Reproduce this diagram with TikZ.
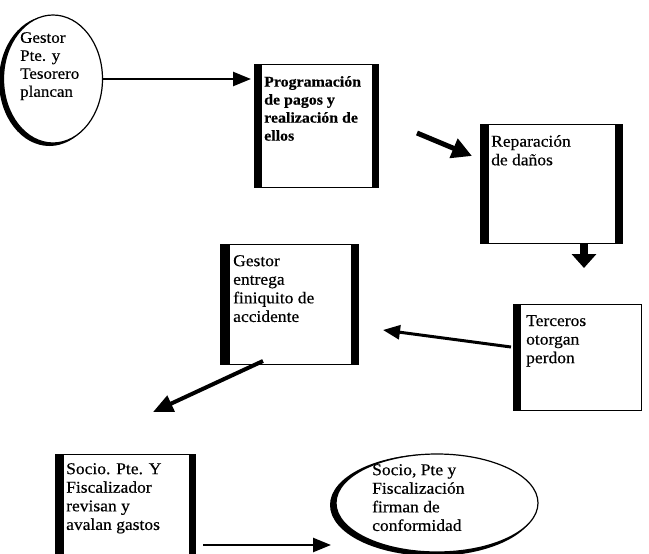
\documentclass[tikz,border=0pt]{standalone}
\usepackage{fontspec}
\setmainfont{Liberation Serif}[FakeStretch=1.06,FakeBold=0.4]
\usetikzlibrary{arrows.meta,shapes.geometric,backgrounds}
\begin{document}
\begin{tikzpicture}[x=1pt,y=-1pt,
  box/.style={draw, line width=1.2pt, rectangle, inner sep=0pt, anchor=north west},
  oval/.style={draw, line width=1.2pt, ellipse, inner sep=0pt, fill=white},
  txt/.style={anchor=north west, inner sep=0pt, align=left, font=\fontsize{16.5}{18.6}\selectfont},
  arr/.style={-{Triangle[length=18pt,width=14pt]}, line width=2.5pt},
]
\useasboundingbox (0,0) rectangle (649,554);
\clip (0,0) rectangle (649,554);

% ellipse 1
\node[oval, minimum width=99pt, minimum height=128pt] (e1) at (53,79) {};
\begin{scope}[on background layer]
  \fill[white] (0,0) rectangle (649,554);
  \fill[black] ([xshift=-3.5pt,yshift=-2pt]e1.center) ellipse (50.5pt and 65pt);
\end{scope}
\node[txt, font=\fontsize{16}{18}\selectfont] (t1) at (20,32) {Gestor\\Pte. y\\Tesorero\\plancan};

% box 1
\node[box, minimum width=124pt, minimum height=123pt] (b1) at (254,64) {};
\fill (b1.north west) rectangle ([xshift=8pt]b1.south west);
\fill ([xshift=-7pt]b1.north east) rectangle (b1.south east);
\node[txt, font=\fontsize{15}{18}\selectfont\bfseries] (tb1) at (264,76) {Programación\\de pagos y\\realización de\\ellos};

% box 2
\node[box, minimum width=142pt, minimum height=119pt] (b2) at (480,124) {};
\fill (b2.north west) rectangle ([xshift=9pt]b2.south west);
\fill ([xshift=-8pt]b2.north east) rectangle (b2.south east);
\node[txt] (tb2) at (491,135) {Reparación\\de daños};

% box 3
\node[box, minimum width=128pt, minimum height=106pt] (b3) at (513,304) {};
\fill (b3.north west) rectangle ([xshift=8pt]b3.south west);
\node[txt] (tb3) at (526,315) {Terceros\\otorgan\\perdon};

% box 4
\node[box, minimum width=138pt, minimum height=120pt] (b4) at (220,244) {};
\fill (b4.north west) rectangle ([xshift=10pt]b4.south west);
\fill ([xshift=-8pt]b4.north east) rectangle (b4.south east);
\node[txt] (tb4) at (233,255) {Gestor\\entrega\\finiquito de\\accidente};

% box 5
\node[box, minimum width=140pt, minimum height=110pt] (b5) at (55,454) {};
\fill (b5.north west) rectangle ([xshift=9pt]b5.south west);
\fill ([xshift=-7pt]b5.north east) rectangle (b5.south east);
\node[txt] (tb5) at (66,463) {Socio. Pte. Y\\Fiscalizador\\revisan y\\avalan gastos};

% ellipse 2
\node[oval, minimum width=202pt, minimum height=98pt] (e2) at (437,503) {};
\begin{scope}[on background layer]
  \fill[black] ([xshift=-4pt,yshift=-2pt]e2.center) ellipse (103pt and 51pt);
\end{scope}
\node[txt] (te2) at (372,464) {Socio, Pte y\\Fiscalización\\firman de\\conformidad};

% connectors
\coordinate (a1) at (251,79);
\draw[arr] (e1.east) -- (a1);

\coordinate (a2s) at (417,133);
\coordinate (a2e) at (472,156);
\draw[line width=5pt, -{Triangle[length=20pt,width=20pt]}] (a2s) -- (a2e);

\coordinate (a3s) at (584,243);
\coordinate (a3e) at (584,268);
\draw[line width=8pt, -{Triangle[length=14pt,width=24pt]}] (a3s) -- (a3e);

\coordinate (a4s) at (511,347);
\coordinate (a4e) at (383,330);
\draw[line width=3pt, -{Triangle[length=17pt,width=14pt]}] (a4s) -- (a4e);

\coordinate (a5s) at (263,361);
\coordinate (a5e) at (153,412);
\draw[line width=4pt, -{Triangle[length=20pt,width=17pt]}] (a5s) -- (a5e);

\coordinate (a6s) at (203,545);
\coordinate (a6e) at (331,545);
\draw[arr] (a6s) -- (a6e);
\end{tikzpicture}
\end{document}
